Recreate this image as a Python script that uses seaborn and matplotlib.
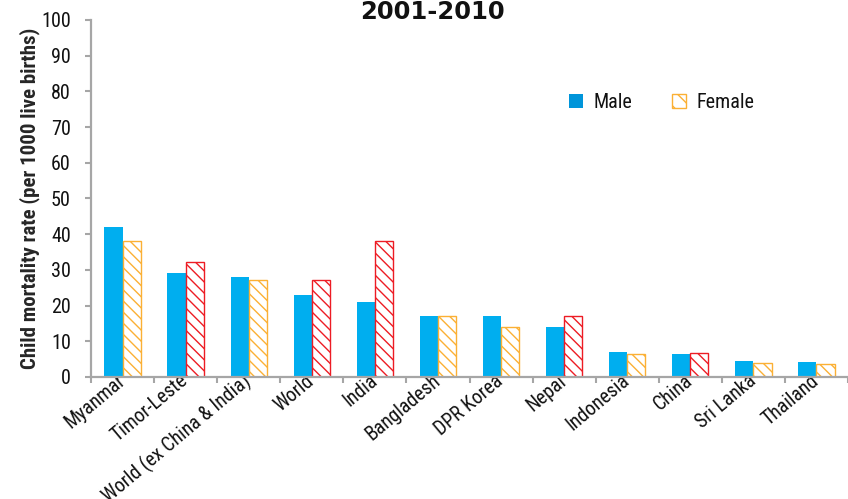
import matplotlib
matplotlib.use("Agg")
import matplotlib.pyplot as plt
import seaborn as sns
import pandas as pd
from matplotlib.patches import Patch

countries = ["Myanmar", "Timor-Leste", "World (ex China & India)", "World", "India",
             "Bangladesh", "DPR Korea", "Nepal", "Indonesia", "China", "Sri Lanka", "Thailand"]
male = [42.0, 29.0, 27.9, 23.0, 21.0, 17.0, 17.0, 14.0, 7.0, 6.35, 4.5, 4.3]
female = [38.0, 32.1, 27.1, 27.1, 38.0, 17.0, 14.0, 17.0, 6.35, 6.6, 4.0, 3.6]
yticks = list(range(0, 101, 10))

MALE_C = "#00AEEF"
ORANGE = "#FBB034"
RED = "#ED1C24"
GREY = "#A6A6A6"

sns.set_theme(style="white")
narrow = ["Roboto Condensed", "Archivo Narrow", "DejaVu Sans"]
plt.rcParams["font.family"] = narrow
plt.rcParams["hatch.linewidth"] = 1.0
plt.rcParams["text.color"] = "#111111"
plt.rcParams["xtick.color"] = "#111111"
plt.rcParams["ytick.color"] = "#111111"

df = pd.DataFrame({
    "Country": countries * 2,
    "Sex": ["Male"] * len(countries) + ["Female"] * len(countries),
    "Rate": male + female,
})

fig = plt.figure(figsize=(8.48, 4.99), dpi=100)
ax = fig.add_axes([91 / 848, 1 - 377 / 499, 1 - 91 / 848, (377 - 20) / 499])

sns.barplot(data=df, x="Country", y="Rate", hue="Sex", order=countries,
            hue_order=["Male", "Female"], palette=[MALE_C, "white"],
            width=0.575, gap=0, legend=False, ax=ax, saturation=1)

for p in ax.containers[0]:
    p.set_facecolor(MALE_C)
    p.set_edgecolor("none")
for p, m, f in zip(ax.containers[1], male, female):
    col = RED if f > m + 0.1 else ORANGE
    p.set_facecolor("white")
    p.set_edgecolor(col)
    p.set_linewidth(1.0)
    p.set_hatch("\\\\\\")
    try:
        p.set_hatchcolor(col)
    except AttributeError:
        pass

ax.set_ylim(0, 100)
ax.set_xlim(-0.5, 11.25)
ax.set_yticks(yticks)
ax.set_yticklabels([str(v) for v in yticks], fontsize=14.5)
ax.set_xticks(range(len(countries)))
ax.set_xticklabels(countries, rotation=40, ha="right", va="center",
                   rotation_mode="anchor", fontsize=14.2)
ax.set_xticks([i - 0.5 for i in range(len(countries) + 1)], minor=True)
ax.tick_params(axis="x", which="major", length=0, pad=1)
ax.tick_params(axis="x", which="minor", length=4.5, width=1.5, color=GREY, bottom=True)
ax.tick_params(axis="y", length=4.5, width=1.5, color=GREY, left=True, pad=10)
ax.set_xlabel("")
ax.set_ylabel("Child mortality rate (per 1000 live births)", fontsize=15,
              fontweight="bold", labelpad=1)

for s in ["top", "right"]:
    ax.spines[s].set_visible(False)
for s in ["left", "bottom"]:
    ax.spines[s].set_color(GREY)
    ax.spines[s].set_linewidth(1.6)

handles = [Patch(facecolor="#0095DA", edgecolor="none", label="Male"),
           Patch(facecolor="white", edgecolor=ORANGE, hatch="\\\\", label="Female")]
ax.legend(handles=handles, loc="center left", bbox_to_anchor=((569 - 91) / 757, (377 - 103) / 357),
          ncol=2, frameon=False, fontsize=14.5, handlelength=0.7, handleheight=0.7,
          columnspacing=2.0, handletextpad=0.5, borderaxespad=0, borderpad=0)

fig.text(432 / 848, 1 - 19 / 499, "2001-2010", ha="center", va="baseline",
         fontsize=17.5, fontweight="bold", family="DejaVu Sans")

fig.savefig("out.png", dpi=100)
